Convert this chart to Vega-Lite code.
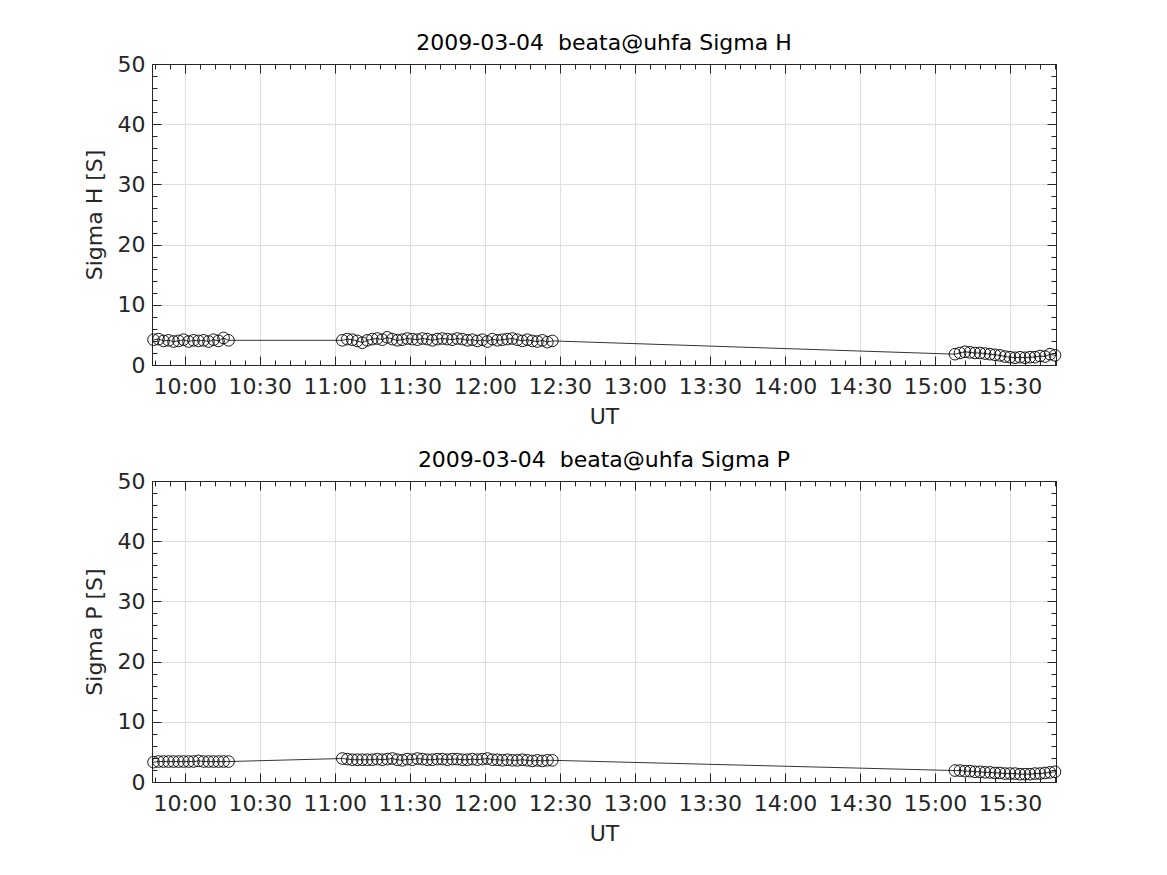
{
  "$schema": "https://vega.github.io/schema/vega-lite/v6.json",
  "background": "white",
  "padding": {"left": 83, "top": 32, "right": 10, "bottom": 10},
  "spacing": 22,
  "config": {
    "font": "DejaVu Sans",
    "view": {"stroke": null},
    "axis": {"domainColor": "#262626", "tickColor": "#262626", "labelColor": "#262626", "titleColor": "#262626", "labelFont": "DejaVu Sans", "titleFont": "DejaVu Sans", "labelFontSize": 22, "titleFontSize": 22, "titleFontWeight": "normal", "gridColor": "#dfdfdf", "gridWidth": 1, "domainWidth": 1, "tickWidth": 1}
  },
  "data": {"values": [
    {"t": "2009-03-04T09:47:30Z", "sh": 4.2, "sp": 3.3},
    {"t": "2009-03-04T09:49:30Z", "sh": 4.3, "sp": 3.4},
    {"t": "2009-03-04T09:51:30Z", "sh": 4.0, "sp": 3.4},
    {"t": "2009-03-04T09:53:30Z", "sh": 4.1, "sp": 3.4},
    {"t": "2009-03-04T09:55:30Z", "sh": 3.9, "sp": 3.4},
    {"t": "2009-03-04T09:57:30Z", "sh": 4.0, "sp": 3.4},
    {"t": "2009-03-04T09:59:30Z", "sh": 4.2, "sp": 3.4},
    {"t": "2009-03-04T10:01:30Z", "sh": 3.9, "sp": 3.4},
    {"t": "2009-03-04T10:03:30Z", "sh": 4.1, "sp": 3.4},
    {"t": "2009-03-04T10:05:30Z", "sh": 4.0, "sp": 3.5},
    {"t": "2009-03-04T10:07:30Z", "sh": 4.1, "sp": 3.4},
    {"t": "2009-03-04T10:09:30Z", "sh": 3.9, "sp": 3.4},
    {"t": "2009-03-04T10:11:30Z", "sh": 4.2, "sp": 3.4},
    {"t": "2009-03-04T10:13:30Z", "sh": 4.0, "sp": 3.4},
    {"t": "2009-03-04T10:15:30Z", "sh": 4.5, "sp": 3.4},
    {"t": "2009-03-04T10:17:30Z", "sh": 4.1, "sp": 3.4},
    {"t": "2009-03-04T11:03:00Z", "sh": 4.1, "sp": 3.9},
    {"t": "2009-03-04T11:05:00Z", "sh": 4.3, "sp": 3.8},
    {"t": "2009-03-04T11:07:00Z", "sh": 4.2, "sp": 3.7},
    {"t": "2009-03-04T11:09:00Z", "sh": 4.0, "sp": 3.7},
    {"t": "2009-03-04T11:11:00Z", "sh": 3.7, "sp": 3.7},
    {"t": "2009-03-04T11:13:00Z", "sh": 4.1, "sp": 3.7},
    {"t": "2009-03-04T11:15:00Z", "sh": 4.3, "sp": 3.7},
    {"t": "2009-03-04T11:17:00Z", "sh": 4.4, "sp": 3.8},
    {"t": "2009-03-04T11:19:00Z", "sh": 4.2, "sp": 3.7},
    {"t": "2009-03-04T11:21:00Z", "sh": 4.6, "sp": 3.8},
    {"t": "2009-03-04T11:23:00Z", "sh": 4.3, "sp": 3.9},
    {"t": "2009-03-04T11:25:00Z", "sh": 4.1, "sp": 3.7},
    {"t": "2009-03-04T11:27:00Z", "sh": 4.2, "sp": 3.6},
    {"t": "2009-03-04T11:29:00Z", "sh": 4.4, "sp": 3.8},
    {"t": "2009-03-04T11:31:00Z", "sh": 4.3, "sp": 3.7},
    {"t": "2009-03-04T11:33:00Z", "sh": 4.2, "sp": 3.9},
    {"t": "2009-03-04T11:35:00Z", "sh": 4.4, "sp": 3.8},
    {"t": "2009-03-04T11:37:00Z", "sh": 4.3, "sp": 3.7},
    {"t": "2009-03-04T11:39:00Z", "sh": 4.1, "sp": 3.7},
    {"t": "2009-03-04T11:41:00Z", "sh": 4.3, "sp": 3.8},
    {"t": "2009-03-04T11:43:00Z", "sh": 4.4, "sp": 3.8},
    {"t": "2009-03-04T11:45:00Z", "sh": 4.3, "sp": 3.7},
    {"t": "2009-03-04T11:47:00Z", "sh": 4.2, "sp": 3.8},
    {"t": "2009-03-04T11:49:00Z", "sh": 4.4, "sp": 3.8},
    {"t": "2009-03-04T11:51:00Z", "sh": 4.3, "sp": 3.7},
    {"t": "2009-03-04T11:53:00Z", "sh": 4.1, "sp": 3.7},
    {"t": "2009-03-04T11:55:00Z", "sh": 4.2, "sp": 3.8},
    {"t": "2009-03-04T11:57:00Z", "sh": 4.0, "sp": 3.7},
    {"t": "2009-03-04T11:59:00Z", "sh": 4.2, "sp": 3.8},
    {"t": "2009-03-04T12:01:00Z", "sh": 3.9, "sp": 3.9},
    {"t": "2009-03-04T12:03:00Z", "sh": 4.3, "sp": 3.7},
    {"t": "2009-03-04T12:05:00Z", "sh": 4.1, "sp": 3.7},
    {"t": "2009-03-04T12:07:00Z", "sh": 4.2, "sp": 3.6},
    {"t": "2009-03-04T12:09:00Z", "sh": 4.3, "sp": 3.7},
    {"t": "2009-03-04T12:11:00Z", "sh": 4.4, "sp": 3.6},
    {"t": "2009-03-04T12:13:00Z", "sh": 4.2, "sp": 3.6},
    {"t": "2009-03-04T12:15:00Z", "sh": 4.0, "sp": 3.7},
    {"t": "2009-03-04T12:17:00Z", "sh": 4.2, "sp": 3.6},
    {"t": "2009-03-04T12:19:00Z", "sh": 4.0, "sp": 3.5},
    {"t": "2009-03-04T12:21:00Z", "sh": 3.9, "sp": 3.6},
    {"t": "2009-03-04T12:23:00Z", "sh": 4.1, "sp": 3.5},
    {"t": "2009-03-04T12:25:00Z", "sh": 3.8, "sp": 3.6},
    {"t": "2009-03-04T12:27:00Z", "sh": 4.0, "sp": 3.6},
    {"t": "2009-03-04T15:08:00Z", "sh": 1.8, "sp": 1.9},
    {"t": "2009-03-04T15:10:00Z", "sh": 2.0, "sp": 1.9},
    {"t": "2009-03-04T15:12:00Z", "sh": 2.2, "sp": 1.8},
    {"t": "2009-03-04T15:14:00Z", "sh": 2.1, "sp": 1.8},
    {"t": "2009-03-04T15:16:00Z", "sh": 2.0, "sp": 1.7},
    {"t": "2009-03-04T15:18:00Z", "sh": 2.0, "sp": 1.7},
    {"t": "2009-03-04T15:20:00Z", "sh": 1.9, "sp": 1.6},
    {"t": "2009-03-04T15:22:00Z", "sh": 1.8, "sp": 1.6},
    {"t": "2009-03-04T15:24:00Z", "sh": 1.7, "sp": 1.5},
    {"t": "2009-03-04T15:26:00Z", "sh": 1.6, "sp": 1.5},
    {"t": "2009-03-04T15:28:00Z", "sh": 1.4, "sp": 1.4},
    {"t": "2009-03-04T15:30:00Z", "sh": 1.3, "sp": 1.4},
    {"t": "2009-03-04T15:32:00Z", "sh": 1.2, "sp": 1.4},
    {"t": "2009-03-04T15:34:00Z", "sh": 1.3, "sp": 1.3},
    {"t": "2009-03-04T15:36:00Z", "sh": 1.2, "sp": 1.3},
    {"t": "2009-03-04T15:38:00Z", "sh": 1.3, "sp": 1.3},
    {"t": "2009-03-04T15:40:00Z", "sh": 1.3, "sp": 1.4},
    {"t": "2009-03-04T15:42:00Z", "sh": 1.5, "sp": 1.4},
    {"t": "2009-03-04T15:44:00Z", "sh": 1.4, "sp": 1.5},
    {"t": "2009-03-04T15:46:00Z", "sh": 1.8, "sp": 1.6},
    {"t": "2009-03-04T15:48:00Z", "sh": 1.6, "sp": 1.7}
  ]},
  "vconcat": [
    {
      "width": 904, "height": 301,
      "title": {"text": "2009-03-04\u00a0 beata@uhfa Sigma H", "fontSize": 22, "fontWeight": "normal", "color": "black", "font": "DejaVu Sans", "offset": -2},
      "layer": [
        {"mark": {"type": "line", "color": "black", "strokeWidth": 0.8},
         "encoding": {
           "x": {"field": "t", "type": "temporal", "scale": {"type": "utc", "domain": [1236160014000, 1236181704000], "nice": false}, "axis": {"orient": "bottom", "format": "%H:%M", "values": [1236160800000, 1236162600000, 1236164400000, 1236166200000, 1236168000000, 1236169800000, 1236171600000, 1236173400000, 1236175200000, 1236177000000, 1236178800000, 1236180600000], "grid": true, "ticks": false, "labelPadding": 11, "labelFlush": false, "labelOverlap": false, "title": "UT", "titlePadding": 9}},
           "y": {"field": "sh", "type": "quantitative", "scale": {"domain": [0, 50], "nice": false, "zero": true}, "axis": {"orient": "left", "values": [0, 10, 20, 30, 40, 50], "grid": true, "ticks": false, "labelPadding": 7, "title": "Sigma H [S]", "titlePadding": 11}}}},
        {"mark": {"type": "point", "shape": "circle", "filled": false, "color": "black", "size": 135, "strokeWidth": 0.9, "opacity": 1},
         "encoding": {
           "x": {"field": "t", "type": "temporal", "axis": null},
           "y": {"field": "sh", "type": "quantitative", "axis": null}}},
        {"mark": {"type": "line", "opacity": 0},
         "encoding": {
           "x": {"field": "t", "type": "temporal", "axis": {"orient": "bottom", "labels": false, "grid": false, "domain": false, "title": null, "values": [1236160800000, 1236162600000, 1236164400000, 1236166200000, 1236168000000, 1236169800000, 1236171600000, 1236173400000, 1236175200000, 1236177000000, 1236178800000, 1236180600000], "tickSize": -9}},
           "y": {"field": "sh", "type": "quantitative", "axis": {"orient": "left", "labels": false, "grid": false, "domain": false, "title": null, "values": [0, 10, 20, 30, 40, 50], "tickSize": -9}}}},
        {"mark": {"type": "line", "opacity": 0},
         "encoding": {
           "x": {"field": "t", "type": "temporal", "axis": {"orient": "bottom", "labels": false, "grid": false, "domain": false, "title": null, "values": [1236160080000, 1236160440000, 1236160800000, 1236161160000, 1236161520000, 1236161880000, 1236162240000, 1236162600000, 1236162960000, 1236163320000, 1236163680000, 1236164040000, 1236164400000, 1236164760000, 1236165120000, 1236165480000, 1236165840000, 1236166200000, 1236166560000, 1236166920000, 1236167280000, 1236167640000, 1236168000000, 1236168360000, 1236168720000, 1236169080000, 1236169440000, 1236169800000, 1236170160000, 1236170520000, 1236170880000, 1236171240000, 1236171600000, 1236171960000, 1236172320000, 1236172680000, 1236173040000, 1236173400000, 1236173760000, 1236174120000, 1236174480000, 1236174840000, 1236175200000, 1236175560000, 1236175920000, 1236176280000, 1236176640000, 1236177000000, 1236177360000, 1236177720000, 1236178080000, 1236178440000, 1236178800000, 1236179160000, 1236179520000, 1236179880000, 1236180240000, 1236180600000, 1236180960000, 1236181320000, 1236181680000], "tickSize": -5}},
           "y": {"field": "sh", "type": "quantitative", "axis": {"orient": "left", "labels": false, "grid": false, "domain": false, "title": null, "values": [0, 2, 4, 6, 8, 10, 12, 14, 16, 18, 20, 22, 24, 26, 28, 30, 32, 34, 36, 38, 40, 42, 44, 46, 48, 50], "tickSize": -5}}}},
        {"mark": {"type": "line", "opacity": 0},
         "encoding": {
           "x": {"field": "t", "type": "temporal", "axis": {"orient": "top", "labels": false, "grid": false, "domain": true, "title": null, "values": [1236160800000, 1236162600000, 1236164400000, 1236166200000, 1236168000000, 1236169800000, 1236171600000, 1236173400000, 1236175200000, 1236177000000, 1236178800000, 1236180600000], "tickSize": -9}},
           "y": {"field": "sh", "type": "quantitative", "axis": {"orient": "right", "labels": false, "grid": false, "domain": true, "title": null, "values": [0, 10, 20, 30, 40, 50], "tickSize": -9}}}},
        {"mark": {"type": "line", "opacity": 0},
         "encoding": {
           "x": {"field": "t", "type": "temporal", "axis": {"orient": "top", "labels": false, "grid": false, "domain": false, "title": null, "values": [1236160080000, 1236160440000, 1236160800000, 1236161160000, 1236161520000, 1236161880000, 1236162240000, 1236162600000, 1236162960000, 1236163320000, 1236163680000, 1236164040000, 1236164400000, 1236164760000, 1236165120000, 1236165480000, 1236165840000, 1236166200000, 1236166560000, 1236166920000, 1236167280000, 1236167640000, 1236168000000, 1236168360000, 1236168720000, 1236169080000, 1236169440000, 1236169800000, 1236170160000, 1236170520000, 1236170880000, 1236171240000, 1236171600000, 1236171960000, 1236172320000, 1236172680000, 1236173040000, 1236173400000, 1236173760000, 1236174120000, 1236174480000, 1236174840000, 1236175200000, 1236175560000, 1236175920000, 1236176280000, 1236176640000, 1236177000000, 1236177360000, 1236177720000, 1236178080000, 1236178440000, 1236178800000, 1236179160000, 1236179520000, 1236179880000, 1236180240000, 1236180600000, 1236180960000, 1236181320000, 1236181680000], "tickSize": -5}},
           "y": {"field": "sh", "type": "quantitative", "axis": {"orient": "right", "labels": false, "grid": false, "domain": false, "title": null, "values": [0, 2, 4, 6, 8, 10, 12, 14, 16, 18, 20, 22, 24, 26, 28, 30, 32, 34, 36, 38, 40, 42, 44, 46, 48, 50], "tickSize": -5}}}}
      ],
      "resolve": {"axis": {"x": "independent", "y": "independent"}}
    },
    {
      "width": 904, "height": 301,
      "title": {"text": "2009-03-04\u00a0 beata@uhfa Sigma P", "fontSize": 22, "fontWeight": "normal", "color": "black", "font": "DejaVu Sans", "offset": -2},
      "layer": [
        {"mark": {"type": "line", "color": "black", "strokeWidth": 0.8},
         "encoding": {
           "x": {"field": "t", "type": "temporal", "scale": {"type": "utc", "domain": [1236160014000, 1236181704000], "nice": false}, "axis": {"orient": "bottom", "format": "%H:%M", "values": [1236160800000, 1236162600000, 1236164400000, 1236166200000, 1236168000000, 1236169800000, 1236171600000, 1236173400000, 1236175200000, 1236177000000, 1236178800000, 1236180600000], "grid": true, "ticks": false, "labelPadding": 11, "labelFlush": false, "labelOverlap": false, "title": "UT", "titlePadding": 9}},
           "y": {"field": "sp", "type": "quantitative", "scale": {"domain": [0, 50], "nice": false, "zero": true}, "axis": {"orient": "left", "values": [0, 10, 20, 30, 40, 50], "grid": true, "ticks": false, "labelPadding": 7, "title": "Sigma P [S]", "titlePadding": 11}}}},
        {"mark": {"type": "point", "shape": "circle", "filled": false, "color": "black", "size": 135, "strokeWidth": 0.9, "opacity": 1},
         "encoding": {
           "x": {"field": "t", "type": "temporal", "axis": null},
           "y": {"field": "sp", "type": "quantitative", "axis": null}}},
        {"mark": {"type": "line", "opacity": 0},
         "encoding": {
           "x": {"field": "t", "type": "temporal", "axis": {"orient": "bottom", "labels": false, "grid": false, "domain": false, "title": null, "values": [1236160800000, 1236162600000, 1236164400000, 1236166200000, 1236168000000, 1236169800000, 1236171600000, 1236173400000, 1236175200000, 1236177000000, 1236178800000, 1236180600000], "tickSize": -9}},
           "y": {"field": "sp", "type": "quantitative", "axis": {"orient": "left", "labels": false, "grid": false, "domain": false, "title": null, "values": [0, 10, 20, 30, 40, 50], "tickSize": -9}}}},
        {"mark": {"type": "line", "opacity": 0},
         "encoding": {
           "x": {"field": "t", "type": "temporal", "axis": {"orient": "bottom", "labels": false, "grid": false, "domain": false, "title": null, "values": [1236160080000, 1236160440000, 1236160800000, 1236161160000, 1236161520000, 1236161880000, 1236162240000, 1236162600000, 1236162960000, 1236163320000, 1236163680000, 1236164040000, 1236164400000, 1236164760000, 1236165120000, 1236165480000, 1236165840000, 1236166200000, 1236166560000, 1236166920000, 1236167280000, 1236167640000, 1236168000000, 1236168360000, 1236168720000, 1236169080000, 1236169440000, 1236169800000, 1236170160000, 1236170520000, 1236170880000, 1236171240000, 1236171600000, 1236171960000, 1236172320000, 1236172680000, 1236173040000, 1236173400000, 1236173760000, 1236174120000, 1236174480000, 1236174840000, 1236175200000, 1236175560000, 1236175920000, 1236176280000, 1236176640000, 1236177000000, 1236177360000, 1236177720000, 1236178080000, 1236178440000, 1236178800000, 1236179160000, 1236179520000, 1236179880000, 1236180240000, 1236180600000, 1236180960000, 1236181320000, 1236181680000], "tickSize": -5}},
           "y": {"field": "sp", "type": "quantitative", "axis": {"orient": "left", "labels": false, "grid": false, "domain": false, "title": null, "values": [0, 2, 4, 6, 8, 10, 12, 14, 16, 18, 20, 22, 24, 26, 28, 30, 32, 34, 36, 38, 40, 42, 44, 46, 48, 50], "tickSize": -5}}}},
        {"mark": {"type": "line", "opacity": 0},
         "encoding": {
           "x": {"field": "t", "type": "temporal", "axis": {"orient": "top", "labels": false, "grid": false, "domain": true, "title": null, "values": [1236160800000, 1236162600000, 1236164400000, 1236166200000, 1236168000000, 1236169800000, 1236171600000, 1236173400000, 1236175200000, 1236177000000, 1236178800000, 1236180600000], "tickSize": -9}},
           "y": {"field": "sp", "type": "quantitative", "axis": {"orient": "right", "labels": false, "grid": false, "domain": true, "title": null, "values": [0, 10, 20, 30, 40, 50], "tickSize": -9}}}},
        {"mark": {"type": "line", "opacity": 0},
         "encoding": {
           "x": {"field": "t", "type": "temporal", "axis": {"orient": "top", "labels": false, "grid": false, "domain": false, "title": null, "values": [1236160080000, 1236160440000, 1236160800000, 1236161160000, 1236161520000, 1236161880000, 1236162240000, 1236162600000, 1236162960000, 1236163320000, 1236163680000, 1236164040000, 1236164400000, 1236164760000, 1236165120000, 1236165480000, 1236165840000, 1236166200000, 1236166560000, 1236166920000, 1236167280000, 1236167640000, 1236168000000, 1236168360000, 1236168720000, 1236169080000, 1236169440000, 1236169800000, 1236170160000, 1236170520000, 1236170880000, 1236171240000, 1236171600000, 1236171960000, 1236172320000, 1236172680000, 1236173040000, 1236173400000, 1236173760000, 1236174120000, 1236174480000, 1236174840000, 1236175200000, 1236175560000, 1236175920000, 1236176280000, 1236176640000, 1236177000000, 1236177360000, 1236177720000, 1236178080000, 1236178440000, 1236178800000, 1236179160000, 1236179520000, 1236179880000, 1236180240000, 1236180600000, 1236180960000, 1236181320000, 1236181680000], "tickSize": -5}},
           "y": {"field": "sp", "type": "quantitative", "axis": {"orient": "right", "labels": false, "grid": false, "domain": false, "title": null, "values": [0, 2, 4, 6, 8, 10, 12, 14, 16, 18, 20, 22, 24, 26, 28, 30, 32, 34, 36, 38, 40, 42, 44, 46, 48, 50], "tickSize": -5}}}}
      ],
      "resolve": {"axis": {"x": "independent", "y": "independent"}}
    }
  ]
}
